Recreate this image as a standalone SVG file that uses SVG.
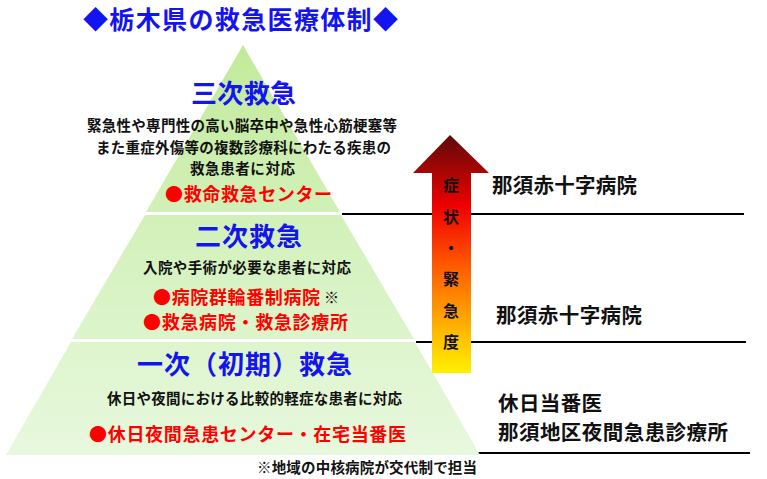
<svg xmlns="http://www.w3.org/2000/svg" width="767" height="479" viewBox="0 0 767 479">
<defs>
<linearGradient id="pg" x1="0" y1="45" x2="0" y2="455" gradientUnits="userSpaceOnUse">
<stop offset="0" stop-color="#c2ea9a"/>
<stop offset="0.45" stop-color="#d3f1bb"/>
<stop offset="1" stop-color="#e8f8de"/>
</linearGradient>
<linearGradient id="ag" x1="0" y1="135" x2="0" y2="373" gradientUnits="userSpaceOnUse">
<stop offset="0" stop-color="#5e0a0a"/>
<stop offset="0.3" stop-color="#f00000"/>
<stop offset="0.55" stop-color="#ff5a00"/>
<stop offset="0.8" stop-color="#ffb000"/>
<stop offset="1" stop-color="#fff000"/>
</linearGradient>
<style>
text{font-family:"Noto Sans CJK JP","Noto Sans CJK SC",sans-serif;font-weight:bold}
.t{fill:#1414f0;font-size:25px}
.h{fill:#1414f0;font-size:26px}
.d{fill:#111;font-size:14.5px}
.r{fill:#ff0000;font-size:18px}
.v{fill:#111;font-size:16px;text-anchor:middle}
.n{fill:#111;font-size:20.5px}
.ln{stroke:#000;stroke-width:2.2;fill:none}
</style>
</defs>
<rect width="767" height="479" fill="#fff"/>
<text class="t" x="83" y="29" textLength="315" lengthAdjust="spacing">◆栃木県の救急医療体制◆</text>
<g id="connectors">
<line class="ln" x1="342" y1="214" x2="744" y2="214"/>
<line class="ln" x1="416" y1="342" x2="746" y2="342"/>
<line class="ln" x1="478" y1="453" x2="750" y2="453"/>
</g>
<g id="tier3">
<polygon points="243,45 340,212 146,212" fill="url(#pg)"/>
<text class="h" x="191" y="103" textLength="105" lengthAdjust="spacing">三次救急</text>
<text class="d" x="87" y="131" textLength="310" lengthAdjust="spacing">緊急性や専門性の高い脳卒中や急性心筋梗塞等</text>
<text class="d" x="96" y="153" textLength="295" lengthAdjust="spacing">また重症外傷等の複数診療科にわたる疾患の</text>
<text class="d" x="190" y="174" textLength="105" lengthAdjust="spacing">救急患者に対応</text>
<text class="r" x="165" y="201" textLength="167" lengthAdjust="spacing">●救命救急センター</text>
</g>
<g id="tier2">
<polygon points="145,215 341,215 414,339 72,339" fill="url(#pg)"/>
<text class="h" x="195" y="246" textLength="107" lengthAdjust="spacing">二次救急</text>
<text class="d" x="143" y="273" textLength="208" lengthAdjust="spacing">入院や手術が必要な患者に対応</text>
<text class="r" x="153" y="304" textLength="167" lengthAdjust="spacing">●病院群輪番制病院</text>
<text class="d" x="324" y="303" style="font-size:15px">※</text>
<text class="r" x="143" y="329" textLength="205" lengthAdjust="spacing">●救急病院・救急診療所</text>
</g>
<g id="tier1">
<polygon points="71,342 415,342 480,455 6,455" fill="url(#pg)"/>
<text class="h" x="137" y="374" textLength="215" lengthAdjust="spacing">一次（初期）救急</text>
<text class="d" x="107" y="404" textLength="295" lengthAdjust="spacing">休日や夜間における比較的軽症な患者に対応</text>
<text class="r" x="89" y="441" textLength="317" lengthAdjust="spacing">●休日夜間急患センター・在宅当番医</text>
<text class="d" x="257" y="473" textLength="220" lengthAdjust="spacing">※地域の中核病院が交代制で担当</text>
</g>
<g id="arrow">
<polygon points="450,135 489,173 471,173 471,373 432,373 432,173 413,173" fill="url(#ag)"/>
<text class="v" x="451" y="191">症</text>
<text class="v" x="451" y="223">状</text>
<text class="v" x="451" y="254">・</text>
<text class="v" x="451" y="285">緊</text>
<text class="v" x="451" y="317">急</text>
<text class="v" x="451" y="348">度</text>
</g>
<g id="hosp3">
<text class="n" x="492" y="193" textLength="145" lengthAdjust="spacing">那須赤十字病院</text>
</g>
<g id="hosp2">
<text class="n" x="496" y="323" textLength="146" lengthAdjust="spacing">那須赤十字病院</text>
</g>
<g id="hosp1">
<text class="n" x="498" y="411" textLength="104" lengthAdjust="spacing">休日当番医</text>
<text class="n" x="498" y="440" textLength="230" lengthAdjust="spacing">那須地区夜間急患診療所</text>
</g>
</svg>
